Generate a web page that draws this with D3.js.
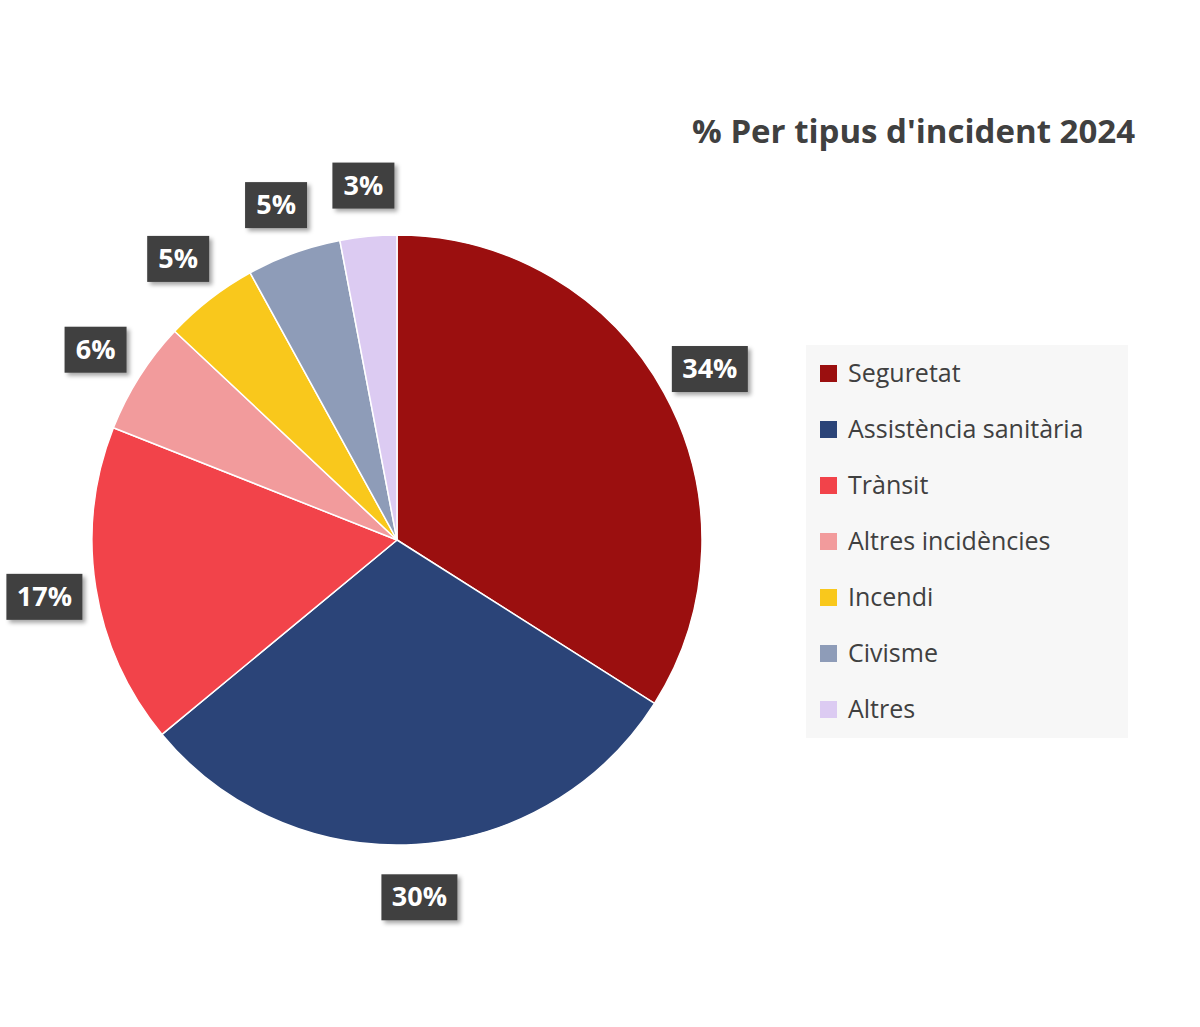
<!DOCTYPE html>
<html>
<head>
<meta charset="utf-8">
<script src="https://cdn.jsdelivr.net/npm/d3@7"></script>
<style>
  body { margin: 0; background: #fff; }
  text { font-family: "Open Sans", sans-serif; }
</style>
</head>
<body>
<svg width="1200" height="1027"></svg>
<script>
const categories = ['Seguretat', 'Assistència sanitària', 'Trànsit', 'Altres incidències', 'Incendi', 'Civisme', 'Altres'];
const values = [34, 30, 17, 6, 5, 5, 3];
const colors = ['#9b0f0f', '#2b4478', '#f2434a', '#f29b9c', '#f9c81c', '#8e9cb8', '#dccbf2'];

const svg = d3.select('svg');

// title
svg.append('text')
  .attr('x', 1135).attr('y', 143)
  .attr('text-anchor', 'end')
  .attr('font-size', 33).attr('font-weight', 'bold')
  .attr('fill', '#404040')
  .text("% Per tipus d'incident 2024");

const defs = svg.append('defs');
const f = defs.append('filter').attr('id', 'sh').attr('x', '-20%').attr('y', '-20%').attr('width', '150%').attr('height', '150%');
f.append('feDropShadow').attr('dx', 3).attr('dy', 3).attr('stdDeviation', 2).attr('flood-color', '#000').attr('flood-opacity', 0.35);

const data = categories.map((c, i) => ({ name: c, value: values[i], color: colors[i] }));
const pie = d3.pie().value((d) => d.value).sort(null);
const arcs = pie(data);
const arc = d3.arc().innerRadius(0).outerRadius(305);
const labelArc = d3.arc().innerRadius(357).outerRadius(357);

const g = svg.append('g').attr('transform', 'translate(397,540)');

g.selectAll('path')
  .data(arcs)
  .enter()
  .append('path')
  .attr('d', arc)
  .attr('fill', (d) => d.data.color)
  .attr('stroke', '#fff')
  .attr('stroke-width', 1.5);

const labels = g.selectAll('g.lab')
  .data(arcs)
  .enter()
  .append('g')
  .attr('class', 'lab')
  .attr('transform', (d) => 'translate(' + labelArc.centroid(d) + ')');

labels.append('rect')
  .attr('x', (d) => d.data.value >= 10 ? -38 : -31)
  .attr('y', -22)
  .attr('width', (d) => d.data.value >= 10 ? 76 : 62)
  .attr('height', 46)
  .attr('fill', '#404040')
  .attr('filter', 'url(#sh)');

labels.append('text')
  .attr('text-anchor', 'middle')
  .attr('dy', 10)
  .attr('font-size', 27)
  .attr('font-weight', 'bold')
  .attr('fill', '#fff')
  .text((d) => d.data.value + '%');

// legend
const legend = svg.append('g').attr('transform', 'translate(806,345)');
legend.append('rect')
  .attr('width', 322).attr('height', 393)
  .attr('fill', '#f7f7f7');

const y = d3.scaleBand().domain(categories).range([0, 392]);

const items = legend.selectAll('g.item')
  .data(data)
  .enter()
  .append('g')
  .attr('class', 'item')
  .attr('transform', (d) => 'translate(0,' + (y(d.name) + y.bandwidth() / 2) + ')');

items.append('rect')
  .attr('x', 14).attr('y', -8)
  .attr('width', 17).attr('height', 17)
  .attr('fill', (d) => d.color);

items.append('text')
  .attr('x', 42).attr('dy', 9)
  .attr('font-size', 25)
  .attr('fill', '#404040')
  .text((d) => d.name);
</script>
</body>
</html>
